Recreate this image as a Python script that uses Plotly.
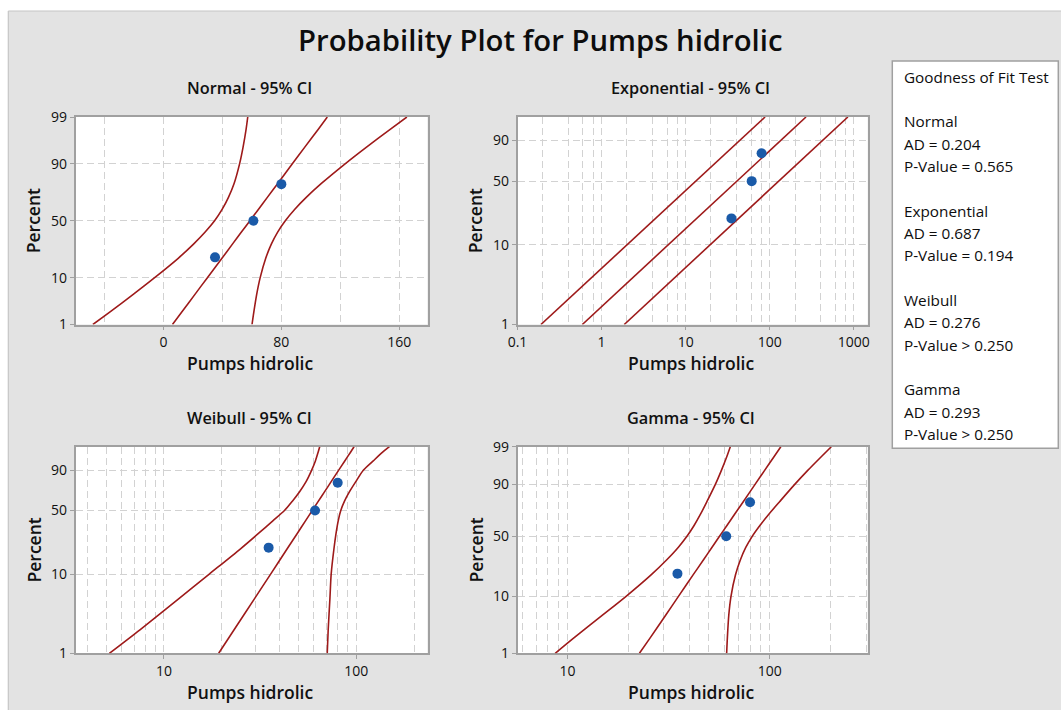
import math
from statistics import NormalDist
import plotly.graph_objects as go

W, H = 1061, 710

# ---------------- data ----------------
data_x = [35, 61, 80]
plot_pct = [20.6, 50.0, 79.4]

pct_levels = [1, 2, 5, 10, 20, 30, 40, 50, 60, 70, 80, 90, 95, 98, 99]

normal_fit = [6.1, 12.3, 21.5, 29.7, 39.7, 46.8, 52.9, 58.7, 64.4, 70.5, 77.7, 87.6, 95.8, 105.1, 111.2]
normal_lower = [-47.9, -36.7, -20.3, -6.2, 10.0, 20.4, 28.3, 34.7, 39.8, 44.1, 48.0, 51.7, 54.0, 56.1, 57.2]
normal_upper = [60.1, 61.3, 63.3, 65.6, 69.4, 73.2, 77.5, 82.7, 89.0, 96.9, 107.4, 123.5, 137.6, 154.1, 165.2]

exp_pct = [1, 99]
exp_fit = [0.59, 270]
exp_lower = [0.19, 88]
exp_upper = [1.86, 850]

wb_fit = [19.25, 23.15, 29.63, 35.85, 43.7, 49.5, 54.4, 59.0, 63.5, 68.3, 73.7, 81.0, 86.9, 93.3, 97.3]
wb_lower = [5.2, 7.5, 12.0, 17.2, 25.0, 31.2, 36.8, 42.3, 46.5, 50.6, 54.6, 58.6, 61.2, 63.3, 64.5]
wb_upper = [70.6, 71.4, 72.9, 74.0, 76.5, 78.5, 80.5, 83.0, 86.8, 92.0, 99.0, 109.0, 122.0, 137.0, 148.6]

gm_fit = [22.7, 25.7, 30.6, 35.4, 41.9, 47.1, 51.8, 56.5, 61.5, 67.1, 74.2, 84.7, 94.1, 105.5, 113.6]
gm_lower = [8.7, 10.8, 14.9, 19.5, 26.0, 31.0, 35.3, 39.0, 42.3, 45.5, 49.0, 53.9, 57.6, 61.5, 63.9]
gm_upper = [61.3, 61.8, 62.8, 64.4, 67.8, 71.7, 76.2, 82.0, 89.5, 99.1, 112.3, 133.1, 153.5, 181.0, 201.8]

gof_lines = [
    "Goodness of Fit Test", "",
    "Normal", "AD = 0.204", "P-Value = 0.565", "",
    "Exponential", "AD = 0.687", "P-Value = 0.194", "",
    "Weibull", "AD = 0.276", "P-Value > 0.250", "",
    "Gamma", "AD = 0.293", "P-Value > 0.250",
]

# ---------------- probability scales ----------------
ND = NormalDist()
GAMMA_SHAPE = 9.0


def t_norm(p):
    return ND.inv_cdf(p / 100.0)


def t_wb(p):
    return math.log(-math.log(1 - p / 100.0))


def t_gam(p):
    z = ND.inv_cdf(p / 100.0)
    k = GAMMA_SHAPE
    return math.log(k) + 3 * math.log(1 - 1 / (9 * k) + z / (3 * math.sqrt(k)))


# ---------------- styling ----------------
FONT = "Open Sans"
TXT = "#111111"
FRAME = "#a0a0a0"
GRID = "#d2d2d2"
DASH = "7px,4px"
RED = "#9e1a1a"
BLUE = "#1a5aa8"
BG = "#e3e3e3"


def px(xp):
    return xp / W


def py(yp):
    return 1 - yp / H


COLS = [(75.5, 427.5), (517.5, 867.7)]
ROWS = [(117.0, 324.5), (446.7, 653.3)]


def log_minor(lo_exp, hi_exp, mults):
    vals = []
    for e in range(lo_exp, hi_exp + 1):
        for m in mults:
            vals.append(m * 10 ** e)
    return vals


panels = [
    dict(name="Normal - 95% CI", col=0, row=0, xtype="linear", xrange=[-59.7, 179.2],
         xticks=[0, 80, 160], xticktext=["0", "80", "160"], xminor=[-40, 40, 120],
         tf=t_norm, ylabels=[1, 10, 50, 90, 99], pct=pct_levels,
         lines=(normal_lower, normal_fit, normal_upper)),
    dict(name="Exponential - 95% CI", col=1, row=0, xtype="log", xrange=[-1, 3.165],
         xticks=[0.1, 1, 10, 100, 1000], xticktext=["0.1", "1", "10", "100", "1000"],
         xminor=log_minor(-1, 2, [2, 4, 6, 8]),
         tf=t_wb, ylabels=[1, 10, 50, 90], pct=exp_pct,
         lines=(exp_lower, exp_fit, exp_upper)),
    dict(name="Weibull - 95% CI", col=0, row=1, xtype="log", xrange=[0.54, 2.37],
         xticks=[10, 100], xticktext=["10", "100"],
         xminor=log_minor(0, 2, [2, 3, 4, 5, 6, 7, 8, 9]),
         tf=t_wb, ylabels=[1, 10, 50, 90], pct=pct_levels,
         lines=(wb_lower, wb_fit, wb_upper)),
    dict(name="Gamma - 95% CI", col=1, row=1, xtype="log", xrange=[0.753, 2.485],
         xticks=[10, 100], xticktext=["10", "100"],
         xminor=log_minor(0, 2, [2, 3, 4, 5, 6, 7, 8, 9]),
         tf=t_gam, ylabels=[1, 10, 50, 90, 99], pct=pct_levels,
         lines=(gm_lower, gm_fit, gm_upper)),
]

fig = go.Figure()
layout = dict(
    width=W, height=H, margin=dict(l=0, r=0, t=0, b=0, pad=0), autosize=False,
    paper_bgcolor=BG, plot_bgcolor="white", showlegend=False,
    font=dict(family=FONT, color=TXT),
)

annotations = []
shapes = []

for i, p in enumerate(panels):
    idx = "" if i == 0 else str(i + 1)
    xa, ya = "x" + idx, "y" + idx
    x0, x1 = COLS[p["col"]]
    y0, y1 = ROWS[p["row"]]
    tf = p["tf"]

    grid_common = dict(showgrid=True, gridcolor=GRID, gridwidth=1.4, griddash=DASH)
    axis_common = dict(showline=True, linecolor=FRAME, linewidth=1.5, mirror=True,
                       ticks="outside", ticklen=4, tickwidth=1.2, tickcolor=FRAME,
                       tickfont=dict(family=FONT, size=14, color=TXT),
                       zeroline=False, fixedrange=True, automargin=False,
                       layer="below traces", **grid_common)

    layout["xaxis" + idx] = dict(
        domain=[px(x0), px(x1)], anchor=ya, type=p["xtype"], range=p["xrange"],
        tickmode="array", tickvals=p["xticks"], ticktext=p["xticktext"],
        minor=dict(tickmode="array", tickvals=p["xminor"], ticks="", **grid_common),
        **axis_common,
    )
    ymin, ymax = tf(1), tf(99)
    layout["yaxis" + idx] = dict(
        domain=[py(y1), py(y0)], anchor=xa, type="linear", range=[ymin, ymax],
        tickmode="array", tickvals=[tf(v) for v in p["ylabels"]],
        ticktext=[str(v) for v in p["ylabels"]],
        **axis_common,
    )

    ys = [tf(v) for v in p["pct"]]
    for arr in p["lines"]:
        fig.add_trace(go.Scatter(
            x=arr, y=ys, xaxis=xa, yaxis=ya, mode="lines",
            line=dict(color=RED, width=1.6, shape="spline", smoothing=0.8),
            hoverinfo="skip", cliponaxis=True,
        ))
    fig.add_trace(go.Scatter(
        x=data_x, y=[tf(v) for v in plot_pct], xaxis=xa, yaxis=ya, mode="markers",
        marker=dict(color=BLUE, size=10, line=dict(width=0)),
    ))

    cx = (x0 + x1) / 2
    annotations.append(dict(
        text=p["name"], x=px(cx - 2), y=py(y0 - 29), xref="paper", yref="paper",
        xanchor="center", yanchor="middle", showarrow=False,
        font=dict(family=FONT, size=16.3, color=TXT, weight=600),
    ))
    annotations.append(dict(
        text="Pumps hidrolic", x=px(cx - 2), y=py(y1 + 38.5), xref="paper", yref="paper",
        xanchor="center", yanchor="middle", showarrow=False,
        font=dict(family=FONT, size=17.5, color=TXT, weight=600),
    ))
    annotations.append(dict(
        text="Percent", x=px(x0 - 42.5), y=py((y0 + y1) / 2 + 0.5), xref="paper", yref="paper",
        xanchor="center", yanchor="middle", showarrow=False, textangle=-90,
        font=dict(family=FONT, size=17.5, color=TXT, weight=600),
    ))

annotations.append(dict(
    text="Probability Plot for Pumps hidrolic", x=px(540), y=py(40), xref="paper", yref="paper",
    xanchor="center", yanchor="middle", showarrow=False,
    font=dict(family=FONT, size=29.3, color="#0d0d0d", weight=600),
))

# white strips at top / left and grey border
shapes.append(dict(type="rect", xref="paper", yref="paper", x0=-0.01, x1=1.01, y0=py(11), y1=1.01,
                   fillcolor="white", line=dict(width=0), layer="above"))
shapes.append(dict(type="rect", xref="paper", yref="paper", x0=-0.01, x1=px(8.3), y0=-0.01, y1=1.01,
                   fillcolor="white", line=dict(width=0), layer="above"))
shapes.append(dict(type="line", xref="paper", yref="paper", x0=px(8.3), x1=1.01, y0=py(11), y1=py(11),
                   line=dict(color="#c6c6c6", width=1.2), layer="above"))
shapes.append(dict(type="line", xref="paper", yref="paper", x0=px(8.3), x1=px(8.3), y0=py(11), y1=-0.01,
                   line=dict(color="#c6c6c6", width=1.2), layer="above"))

# goodness of fit box
shapes.append(dict(type="rect", xref="paper", yref="paper", x0=px(892.3), x1=px(1058.3),
                   y0=py(448.3), y1=py(61), fillcolor="white",
                   line=dict(color=FRAME, width=1.5), layer="above"))
line_y = 76.7
step = 22.33
for j, t in enumerate(gof_lines):
    if t:
        annotations.append(dict(
            text=t, x=px(901.5), y=py(line_y + j * step), xref="paper", yref="paper",
            xanchor="left", yanchor="middle", showarrow=False,
            font=dict(family=FONT, size=15.3, color="#0d0d0d", weight=500),
        ))

layout["annotations"] = annotations
layout["shapes"] = shapes
fig.update_layout(**layout)

fig.write_html("out.html")
